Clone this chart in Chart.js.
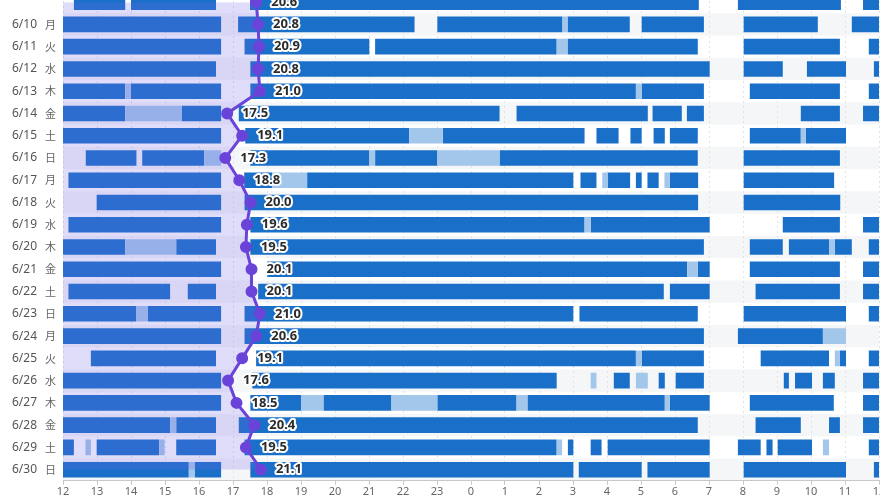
<!DOCTYPE html>
<html>
<head>
<meta charset="utf-8">
<script src="https://cdn.jsdelivr.net/npm/chart.js@4.4.1/dist/chart.umd.min.js"></script>
<style>
  html, body { margin: 0; padding: 0; background: #fff; overflow: hidden; width: 880px; height: 496px; }
  #wrap { position: absolute; left: 0; top: -9px; width: 880px; height: 507px; }
</style>
</head>
<body>
<div id="wrap"><canvas id="sleepChart"></canvas></div>
<script>
// Days shown (6/9 is only partly visible at the top)
const dates = ['6/9', '6/10', '6/11', '6/12', '6/13', '6/14', '6/15', '6/16', '6/17', '6/18', '6/19',
    '6/20', '6/21', '6/22', '6/23', '6/24', '6/25', '6/26', '6/27', '6/28', '6/29', '6/30'];
const weekdays = ['日', '月', '火', '水', '木', '金', '土', '日', '月', '火', '水',
    '木', '金', '土', '日', '月', '火', '水', '木', '金', '土', '日'];

// Total per day (purple line)
const totalHours = [20.6, 20.8, 20.9, 20.8, 21.0, 17.5, 19.1, 17.3, 18.8, 20.0, 19.6,
    19.5, 20.1, 20.1, 21.0, 20.6, 19.1, 17.6, 18.5, 20.4, 19.5, 21.1];

// Hour axis runs from 12 (noon) to 36 (noon next day)
const hourTicks = [12, 13, 14, 15, 16, 17, 18, 19, 20, 21, 22, 23, 24, 25, 26, 27, 28, 29, 30, 31, 32, 33, 34, 35, 36];

// Dark blocks [start, end] per day
const sleepBlocks = [
    [[12.32, 13.83], [14.0, 16.5], [17.5, 30.7], [31.85, 34.88], [35.53, 36]],
    [[12, 16.65], [17.15, 22.34], [23.01, 26.69], [26.84, 28.67], [29.02, 30.85], [32.02, 34.2], [35.2, 36]],
    [[12, 16.65], [17.34, 21.01], [21.18, 26.52], [26.84, 30.67], [32.02, 34.85], [35.7, 36]],
    [[12, 16.5], [17.51, 31.02], [32.02, 33.17], [33.88, 35.03], [35.85, 36]],
    [[12, 13.83], [14.0, 16.65], [17.51, 28.85], [29.02, 30.85], [32.2, 34.85], [35.7, 36]],
    [[12, 13.83], [15.5, 16.65], [17.17, 24.84], [25.34, 29.2], [29.34, 30.2], [30.35, 30.85], [33.7, 34.85], [35.53, 36]],
    [[12, 16.65], [17.36, 22.18], [23.17, 27.34], [27.69, 28.34], [28.69, 29.02], [29.37, 29.7], [29.85, 30.67], [32.2, 33.7], [33.85, 35.03]],
    [[12.67, 14.16], [14.33, 16.15], [17.51, 21.01], [21.18, 23.01], [24.84, 30.67], [32.02, 34.85]],
    [[12.16, 16.65], [17.33, 18.15], [19.18, 27.01], [27.22, 27.69], [28.03, 28.68], [28.85, 29.02], [29.19, 29.52], [29.85, 30.68], [32.02, 34.68]],
    [[12.99, 16.65], [17.34, 30.68], [32.02, 34.86]],
    [[12.16, 16.65], [17.51, 27.34], [27.52, 31.02], [33.17, 34.85], [35.53, 36]],
    [[12, 13.83], [15.33, 16.5], [17.51, 30.85], [32.2, 33.17], [33.35, 34.53], [34.7, 35.2], [35.7, 36]],
    [[12, 16.65], [18.01, 30.36], [30.67, 31.02], [32.2, 34.85], [35.53, 36]],
    [[12.16, 15.15], [15.67, 16.5], [17.74, 29.67], [29.85, 31.02], [32.37, 34.85], [35.53, 36]],
    [[12, 14.16], [14.5, 16.65], [17.34, 27.01], [27.19, 30.67], [32.02, 35.03], [35.7, 36]],
    [[12, 16.65], [17.34, 30.85], [31.85, 34.35]],
    [[12.82, 16.5], [17.68, 28.85], [29.02, 30.85], [32.52, 34.53], [34.85, 35.03], [35.7, 36]],
    [[12, 16.65], [17.57, 26.52], [28.2, 28.67], [29.52, 29.7], [30.02, 30.85], [33.2, 33.35], [33.53, 34.03], [34.35, 34.7], [35.53, 36]],
    [[12, 16.65], [17.51, 19.01], [19.66, 21.66], [23.01, 25.34], [25.66, 29.7], [29.85, 31.02], [32.2, 34.67], [35.53, 36]],
    [[12, 15.15], [15.33, 16.5], [17.17, 30.67], [32.37, 33.7], [34.53, 34.85], [35.53, 36]],
    [[12, 12.32], [12.99, 14.83], [15.33, 16.5], [17.34, 26.52], [26.85, 27.01], [27.52, 27.84], [28.02, 31.02], [31.85, 32.52], [32.69, 32.87], [33.02, 34.03], [35.7, 36]],
    [[12, 15.7], [15.87, 16.65], [17.51, 27.01], [27.17, 29.02], [29.19, 31.02], [32.02, 35.03], [35.85, 36]]
];

// Light blocks [start, end] per day
const lightBlocks = [
    [],
    [[26.69, 26.84]],
    [[26.52, 26.84]],
    [],
    [[13.83, 14.0], [28.85, 29.02]],
    [[13.83, 15.5]],
    [[22.18, 23.17], [33.7, 33.85]],
    [[16.15, 16.65], [21.01, 21.18], [23.01, 24.84]],
    [[18.15, 19.18], [27.86, 28.03], [29.69, 29.85]],
    [],
    [[27.34, 27.52]],
    [[13.83, 15.33], [34.53, 34.7]],
    [[30.36, 30.67]],
    [],
    [[14.16, 14.5]],
    [[34.35, 35.03]],
    [[28.85, 29.02], [34.7, 34.85]],
    [[27.52, 27.69], [28.85, 29.2]],
    [[19.01, 19.66], [21.66, 23.01], [25.34, 25.66], [29.7, 29.85]],
    [[15.15, 15.33]],
    [[12.66, 12.82], [14.83, 14.99], [26.52, 26.68], [34.35, 34.53]],
    [[15.7, 15.87]]
];

function toBars(blocks) {
    return blocks.flatMap((day, i) => day.map(b => ({ y: dates[i], x: b })));
}

// Alternating row background
const rowStripes = {
    id: 'rowStripes',
    beforeDraw(chart) {
        const { ctx, chartArea, scales } = chart;
        const yScale = scales.y;
        const step = yScale.getPixelForValue(1) - yScale.getPixelForValue(0);
        ctx.save();
        ctx.fillStyle = '#f5f6f8';
        dates.forEach((d, i) => {
            if (i % 2 === 1) {
                const y = yScale.getPixelForValue(i);
                ctx.fillRect(chartArea.left, y - step / 2, chartArea.right - chartArea.left, step);
            }
        });
        ctx.restore();
    }
};

// Date + weekday labels on the left (the first row sits under the top edge)
const dayLabels = {
    id: 'dayLabels',
    afterDraw(chart) {
        const { ctx, scales } = chart;
        const yScale = scales.y;
        ctx.save();
        ctx.textBaseline = 'middle';
        dates.forEach((d, i) => {
            if (i === 0) return;
            const y = yScale.getPixelForValue(i);
            ctx.fillStyle = '#555';
            ctx.font = "12px 'Noto Sans', sans-serif";
            ctx.textAlign = 'left';
            ctx.fillText(d, 12, y);
            ctx.fillStyle = '#666';
            ctx.font = "11px 'Noto Sans CJK JP', sans-serif";
            ctx.fillText(weekdays[i], 45, y);
        });
        ctx.restore();
    }
};

// Value labels next to the line points
const valueLabels = {
    id: 'valueLabels',
    afterDatasetsDraw(chart) {
        const { ctx } = chart;
        const meta = chart.getDatasetMeta(0);
        ctx.save();
        ctx.font = "bold 13px 'Noto Sans', sans-serif";
        ctx.textAlign = 'left';
        ctx.textBaseline = 'middle';
        ctx.lineJoin = 'round';
        ctx.lineWidth = 4;
        ctx.strokeStyle = '#fff';
        ctx.fillStyle = '#2b2b2b';
        meta.data.forEach((pt, i) => {
            const txt = totalHours[i].toFixed(1);
            ctx.strokeText(txt, pt.x + 15, pt.y);
            ctx.fillText(txt, pt.x + 15, pt.y);
        });
        ctx.restore();
    }
};

Chart.defaults.font.family = "'Noto Sans', 'Noto Sans CJK JP', sans-serif";

const ctx = document.getElementById('sleepChart').getContext('2d');
const sleepChart = new Chart(ctx, {
    type: 'bar',
    data: {
        labels: dates,
        datasets: [
            {
                type: 'line',
                label: 'Total',
                data: totalHours,
                xAxisID: 'x2',
                yAxisID: 'y',
                indexAxis: 'y',
                borderColor: '#6a44d8',
                backgroundColor: 'rgba(115, 100, 230, 0.22)',
                pointBackgroundColor: '#6a44d8',
                pointBorderColor: '#6a44d8',
                pointRadius: 4.5,
                borderWidth: 3,
                fill: 'origin',
                tension: 0,
                order: 0
            },
            {
                label: 'Light',
                data: toBars(lightBlocks),
                xAxisID: 'x',
                backgroundColor: '#a3c6eb',
                grouped: false,
                barPercentage: 0.7,
                categoryPercentage: 1,
                order: 1
            },
            {
                label: 'Sleep',
                data: toBars(sleepBlocks),
                xAxisID: 'x',
                backgroundColor: '#1a70c8',
                grouped: false,
                barPercentage: 0.7,
                categoryPercentage: 1,
                order: 2
            }
        ]
    },
    options: {
        indexAxis: 'y',
        responsive: true,
        maintainAspectRatio: false,
        animation: false,
        layout: { autoPadding: false, padding: { top: 0, right: 1, left: 0, bottom: 0 } },
        plugins: {
            legend: { display: false },
            tooltip: { enabled: false }
        },
        scales: {
            x: {
                type: 'linear',
                position: 'bottom',
                min: 12,
                max: 36,
                afterBuildTicks: s => { s.ticks = hourTicks.map(v => ({ value: v })); },
                afterFit: s => { s.paddingLeft = 0; s.paddingRight = 0; },
                ticks: {
                    color: '#666',
                    font: { size: 11 },
                    padding: 0,
                    maxRotation: 0,
                    autoSkip: false,
                    callback: v => String(v % 24)
                },
                grid: {
                    color: '#e3e3e3',
                    tickColor: '#c8c8c8',
                    tickLength: 4,
                    tickBorderDash: []
                },
                border: { color: '#c8c8c8', dash: [2, 3] }
            },
            x2: {
                type: 'linear',
                display: false,
                min: 0,
                max: 87
            },
            y: {
                type: 'category',
                offset: true,
                afterFit: s => { s.width = 63; s.paddingTop = 0; s.paddingBottom = 0; },
                ticks: { display: false },
                grid: { display: false },
                border: { display: false }
            }
        }
    },
    plugins: [rowStripes, dayLabels, valueLabels]
});
</script>
</body>
</html>
